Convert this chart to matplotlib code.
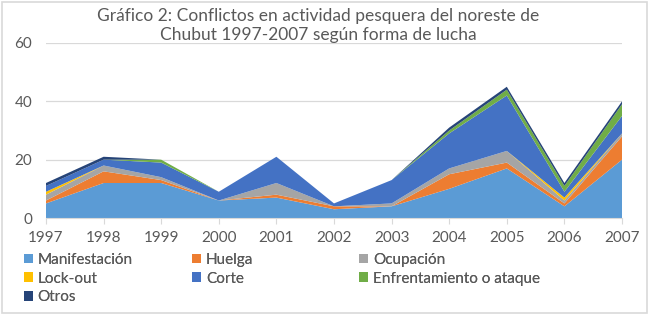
import matplotlib
matplotlib.use("Agg")
import matplotlib.pyplot as plt
from matplotlib.patches import Rectangle, Patch

years = [1997, 1998, 1999, 2000, 2001, 2002, 2003, 2004, 2005, 2006, 2007]
manifestacion = [5, 12, 12, 6, 7, 3, 4, 10, 17, 4, 20]
huelga        = [1, 4, 1, 0, 1, 1, 0, 5, 2, 1, 8]
ocupacion     = [2, 2, 1, 0, 4, 0, 1, 2, 4, 1, 1]
lockout       = [1, 0, 0, 0, 0, 0, 0, 0, 0, 1, 0]
corte         = [2, 2, 5, 3, 9, 1, 8, 12, 19, 2, 6]
enfrentamiento= [0, 0, 1, 0, 0, 0, 0, 1, 2, 2, 4]
otros         = [1, 1, 0, 0, 0, 0, 0, 1, 1, 1, 1]

series_names = ["Manifestación", "Huelga", "Ocupación", "Lock-out", "Corte",
                "Enfrentamiento o ataque", "Otros"]
colors = ["#5B9BD5", "#ED7D31", "#A5A5A5", "#FFC000", "#4472C4", "#70AD47", "#264478"]
title = "Gráfico 2: Conflictos en actividad pesquera del noreste de\nChubut 1997-2007 según forma de lucha"

plt.rcParams['font.family'] = ['Lato', 'DejaVu Sans']
txt = "#595959"
grid = "#D9D9D9"

fig = plt.figure(figsize=(6.5, 3.15), dpi=100)
ax = fig.add_axes([46/650, 1-218/315, (622-46)/650, (218-43)/315])

data = [manifestacion, huelga, ocupacion, lockout, corte, enfrentamiento, otros]
polys = ax.stackplot(years, *data, colors=colors, linewidth=0)

ax.set_xlim(1997, 2007)
ax.set_ylim(0, 60)
ax.set_yticks([0, 20, 40, 60])
ax.set_xticks(years)
ax.yaxis.grid(True, color=grid, linewidth=0.9)
ax.set_axisbelow(True)
for s in ["top", "right", "left"]:
    ax.spines[s].set_visible(False)
ax.spines["bottom"].set_color(grid)
ax.tick_params(axis="y", length=0, labelsize=11, labelcolor=txt, pad=10)
ax.tick_params(axis="x", length=4, color=grid, labelsize=11, labelcolor=txt, pad=5)

fig.text(318/650, 1-8/315, title, ha="center", va="top", fontsize=12.5,
         color=txt, linespacing=1.2)

handles = [Patch(facecolor=c, edgecolor="none") for c in colors]
cols = [[0, 3, 6], [1, 4], [2, 5]]
xs = [24/650, 192/650, 359/650]
for xpos, idx in zip(xs, cols):
    leg = fig.legend([handles[i] for i in idx], [series_names[i] for i in idx],
                     loc="upper left", bbox_to_anchor=(xpos, 1-253/315),
                     frameon=False, fontsize=11, labelcolor=txt,
                     handlelength=0.6, handleheight=0.6, handletextpad=0.3,
                     labelspacing=0.3, borderpad=0, borderaxespad=0)
    fig.add_artist(leg)

fig.add_artist(Rectangle((0.003, 0.005), 0.993, 0.99, transform=fig.transFigure,
                         fill=False, edgecolor="#D9D9D9", linewidth=1.2))

fig.savefig("out.png", dpi=100)
